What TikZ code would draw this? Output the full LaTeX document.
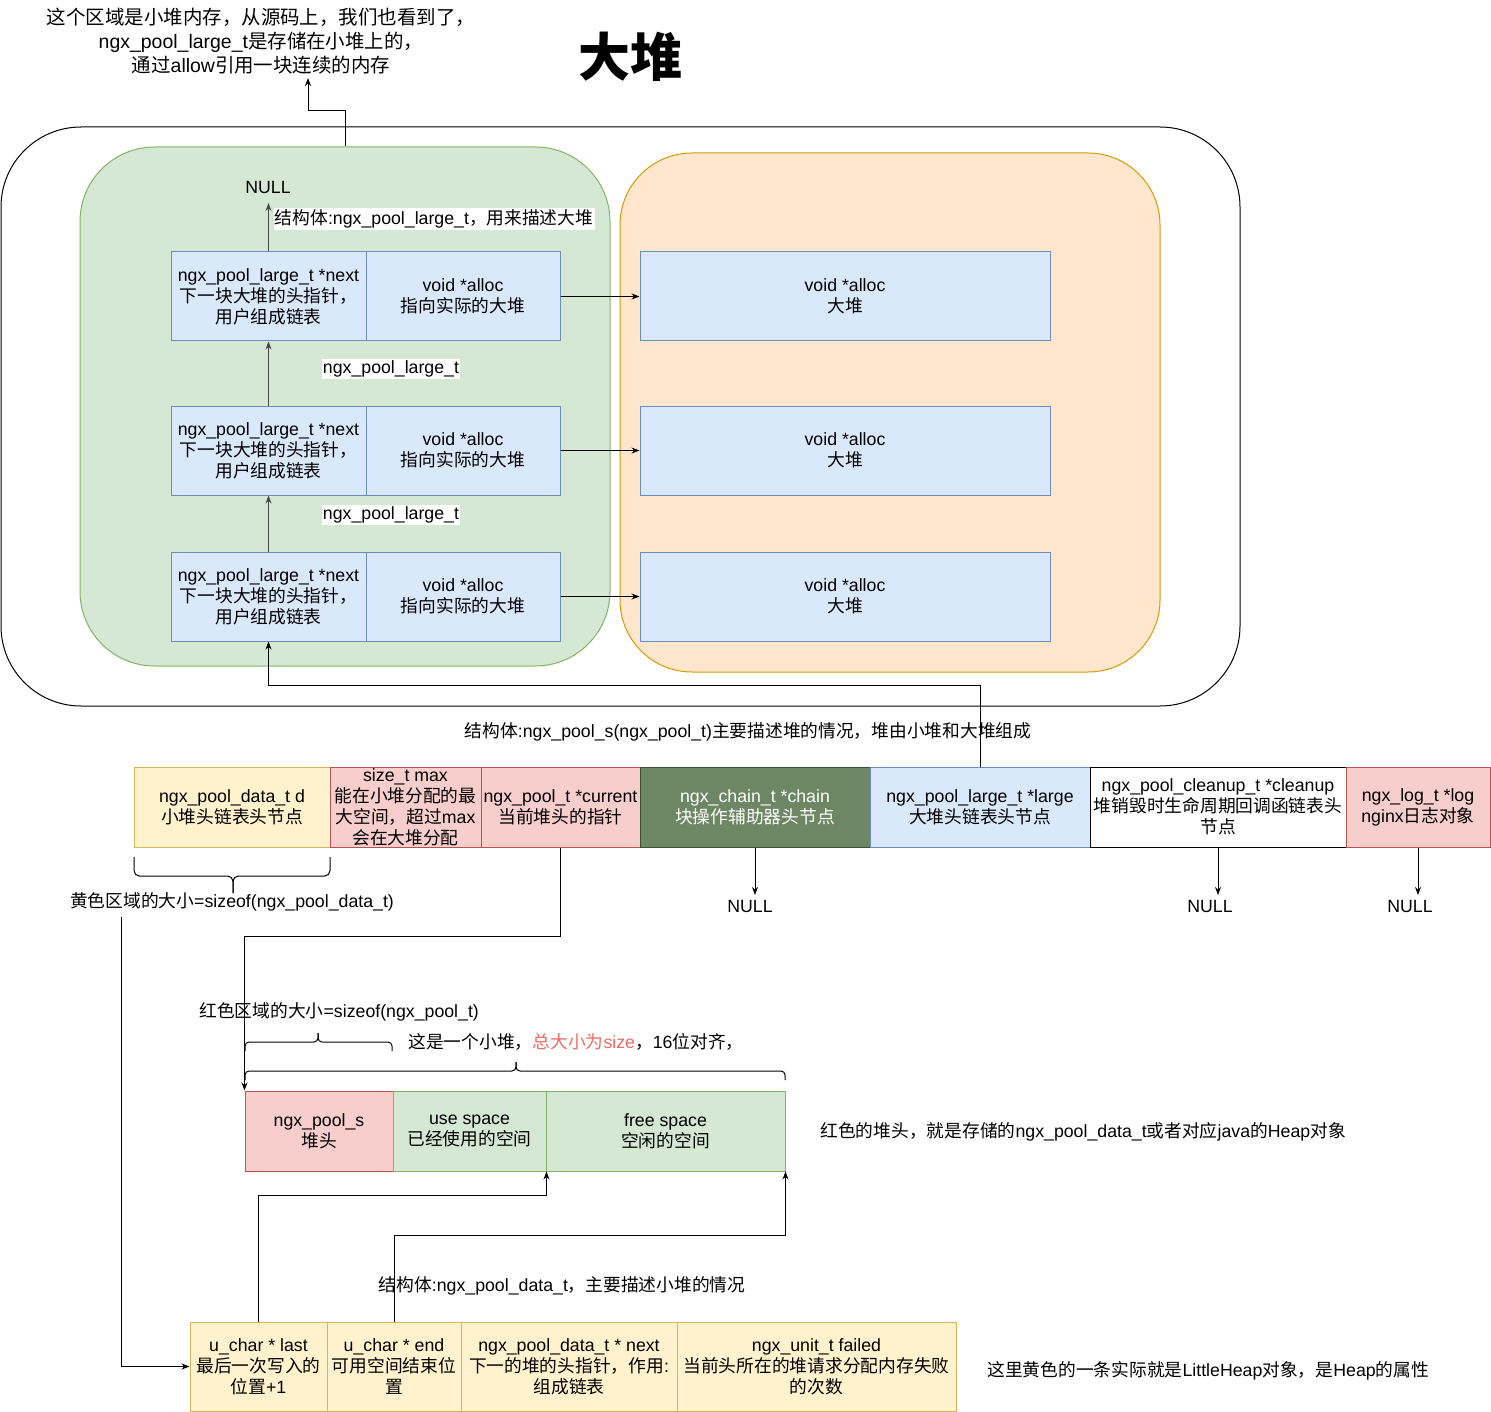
\documentclass[tikz,border=0pt]{standalone}
\usepackage{fontspec}
\setmainfont{Liberation Sans}
\newfontfamily\cjkfont{Noto Sans CJK SC}
\newfontfamily\latinfont{Liberation Sans}
\XeTeXinterchartokenstate=1
\newXeTeXintercharclass\cjkcls
\count255="3000
\loop\XeTeXcharclass\count255=\cjkcls\advance\count255 by 1\ifnum\count255<"A000\repeat
\count255="FF00
\loop\XeTeXcharclass\count255=\cjkcls\advance\count255 by 1\ifnum\count255<"FFF0\repeat
\XeTeXinterchartoks 0 \cjkcls={\cjkfont}
\XeTeXinterchartoks 4095 \cjkcls={\cjkfont}
\XeTeXinterchartoks \cjkcls 0={\latinfont}
\XeTeXinterchartoks 4095 0={\latinfont}
\usetikzlibrary{arrows.meta}
\definecolor{ylwF}{HTML}{FFF2CC}\definecolor{ylwD}{HTML}{D6B656}
\definecolor{redF}{HTML}{F8CECC}\definecolor{redD}{HTML}{B85450}
\definecolor{bluF}{HTML}{DAE8FC}\definecolor{bluD}{HTML}{6C8EBF}
\definecolor{grnF}{HTML}{D5E8D4}\definecolor{grnD}{HTML}{82B366}
\definecolor{orgF}{HTML}{FFE6CC}\definecolor{orgD}{HTML}{D79B00}
\definecolor{dgF}{HTML}{6D8764}\definecolor{dgD}{HTML}{3A5431}
\definecolor{redT}{HTML}{EA6B66}
\newcommand\fs{\fontsize{13.3}{15.75}\selectfont}
\newcommand\cellnode[7]{%
  \pgfmathsetmacro\cw{(#5-#3)*0.75}\pgfmathsetmacro\ch{(#6-#4)*0.75}%
  \node[#2, minimum width=\cw pt, minimum height=\ch pt] (#1) at ({(#3+#5)/2},{(#4+#6)/2}) {#7};}
\tikzset{
  cellbox/.style={draw, inner sep=0pt, align=center, font=\fs},
  blu/.style={cellbox, draw=bluD, fill=bluF},
  ylw/.style={cellbox, draw=ylwD, fill=ylwF},
  red/.style={cellbox, draw=redD, fill=redF},
  grn/.style={cellbox, draw=grnD, fill=grnF},
  dgr/.style={cellbox, draw=dgD, fill=dgF, text=white},
  wht/.style={cellbox, draw=black, fill=white},
  lbl/.style={font=\fs, inner sep=1pt, align=center},
  arr/.style={-{Stealth[length=6pt,width=4.5pt]}},
  garr/.style={arr, draw=black!72},
}
\begin{document}
\begin{tikzpicture}[x=0.75pt,y=-0.75pt,line width=0.75pt]
\useasboundingbox (0,0) rectangle (1491,1412);
% top texts
\node[lbl, font={\fontsize{14.6}{18}\selectfont}] (toptext) at (261,41) {这个区域是小堆内存，从源码上，我们也看到了，\\ngx\_pool\_large\_t是存储在小堆上的，\\通过allow引用一块连续的内存};
\node[lbl, font={\fontsize{39}{45}\selectfont\bfseries}] (title) at (630,57) {大堆};
\coordinate (topend) at (308,78);
% containers
\draw[rounded corners=60pt] (1,127) rectangle (1240,706);
\cellnode{green}{draw=grnD, fill=grnF, rounded corners=56pt, inner sep=0pt}{80}{147}{610}{666}{}
\cellnode{orange}{draw=orgD, fill=orgF, rounded corners=54pt, inner sep=0pt}{620}{153}{1160}{672}{}
% large list
\cellnode{l1}{blu}{171}{252}{366}{341}{ngx\_pool\_large\_t *next\\下一块大堆的头指针，\\用户组成链表}
\cellnode{r1}{blu}{366}{252}{560}{341}{void *alloc\\指向实际的大堆}
\cellnode{b1}{blu}{640}{252}{1050}{341}{void *alloc\\大堆}
\cellnode{l2}{blu}{171}{406}{366}{495}{ngx\_pool\_large\_t *next\\下一块大堆的头指针，\\用户组成链表}
\cellnode{r2}{blu}{366}{406}{560}{495}{void *alloc\\指向实际的大堆}
\cellnode{b2}{blu}{640}{406}{1050}{495}{void *alloc\\大堆}
\cellnode{l3}{blu}{171}{552}{366}{641}{ngx\_pool\_large\_t *next\\下一块大堆的头指针，\\用户组成链表}
\cellnode{r3}{blu}{366}{552}{560}{641}{void *alloc\\指向实际的大堆}
\cellnode{b3}{blu}{640}{552}{1050}{641}{void *alloc\\大堆}
\node[lbl] (nullTop) at (268,187) {NULL};
\draw[garr] (l1.north) -- (l1.north |- 0,203);
\draw[garr] (l2.north) -- (l1.south);
\draw[garr] (l3.north) -- (l2.south);
\node[lbl, fill=white] (lgdesc) at (434,219) {结构体:ngx\_pool\_large\_t，用来描述大堆};
\node[lbl, fill=white] (lg1) at (391,369) {ngx\_pool\_large\_t};
\node[lbl, fill=white] (lg2) at (391,515) {ngx\_pool\_large\_t};
\draw[arr] (r1.east) -- (b1.west);
\draw[arr] (r2.east) -- (b2.west);
\draw[arr] (r3.east) -- (b3.west);
\draw[arr] (green.north) -- ++(0,-36) -| (topend);
% pool_s fields
\node[lbl] (pooldesc) at (748,732) {结构体:ngx\_pool\_s(ngx\_pool\_t)主要描述堆的情况，堆由小堆和大堆组成};
\cellnode{fd}{ylw}{134}{767}{330}{847}{ngx\_pool\_data\_t d\\小堆头链表头节点}
\cellnode{fmax}{red}{330}{767}{481}{847}{size\_t max\\能在小堆分配的最\\大空间，超过max\\会在大堆分配}
\cellnode{fcur}{red}{481}{767}{640}{847}{ngx\_pool\_t *current\\当前堆头的指针}
\cellnode{fchain}{dgr}{640}{767}{870}{847}{ngx\_chain\_t *chain\\块操作辅助器头节点}
\cellnode{flarge}{blu}{870}{767}{1090}{847}{ngx\_pool\_large\_t *large\\大堆头链表头节点}
\cellnode{fclean}{wht}{1090}{767}{1346}{847}{ngx\_pool\_cleanup\_t *cleanup\\堆销毁时生命周期回调函链表头\\节点}
\cellnode{flog}{red}{1346}{767}{1490}{847}{ngx\_log\_t *log\\nginx日志对象}
\draw[arr] (flarge.north) -- ++(0,-81) -| (l3.south);
\node[lbl] (nullA) at (750,906) {NULL};
\node[lbl] (nullB) at (1210,906) {NULL};
\node[lbl] (nullC) at (1410,906) {NULL};
\draw[arr] (fchain.south) -- (fchain.south |- 0,895);
\draw[arr] (fclean.south) -- (fclean.south |- 0,895);
\draw[arr] (flog.south) -- (flog.south |- 0,895);
% yellow brace
\draw[rounded corners=4pt] (134,857) |- (233,876) -- (233,893);
\draw[rounded corners=4pt] (330,857) |- (233,876) -- (233,893);
\node[lbl] (ylabel) at (232,902) {黄色区域的大小=sizeof(ngx\_pool\_data\_t)};
\coordinate (ystart) at (121,917);
% small heap
\node[lbl, anchor=west, inner sep=0pt] (rlabel) at (199,1012) {红色区域的大小=sizeof(ngx\_pool\_t)};
\draw[rounded corners=3pt] (245,1051) |- (318,1042) -- (318,1033);
\draw[rounded corners=3pt] (392,1051) |- (318,1042) -- (318,1033);
\draw[rounded corners=3pt] (245,1080) |- (516,1071) -- (516,1062);
\draw[rounded corners=3pt] (785,1080) |- (516,1071) -- (516,1062);
\node[lbl, anchor=west, inner sep=0pt] (sizelabel) at (408,1042) {这是一个小堆，\textcolor{redT}{总大小为size}，16位对齐，};
\cellnode{ps}{red}{245}{1091}{393}{1171}{ngx\_pool\_s\\堆头}
\cellnode{used}{grn}{393}{1091}{546}{1171}{use space\\已经使用的空间}
\cellnode{free}{grn}{546}{1091}{785}{1171}{free space\\空闲的空间}
\node[lbl, anchor=west, inner sep=0pt] (heapnote) at (820,1132) {红色的堆头，就是存储的ngx\_pool\_data\_t或者对应java的Heap对象};
\draw[arr] (fcur.south) -- ++(0,89) -| (ps.north west);
% data_t
\cellnode{last}{ylw}{190}{1322}{327}{1411}{u\_char * last\\最后一次写入的\\位置+1}
\cellnode{endc}{ylw}{327}{1322}{461}{1411}{u\_char * end\\可用空间结束位\\置}
\cellnode{next}{ylw}{461}{1322}{677}{1411}{ngx\_pool\_data\_t * next\\下一的堆的头指针，作用:\\组成链表}
\cellnode{failed}{ylw}{677}{1322}{956}{1411}{ngx\_unit\_t failed\\当前头所在的堆请求分配内存失败\\的次数}
\node[lbl] (datadesc) at (562,1286) {结构体:ngx\_pool\_data\_t，主要描述小堆的情况};
\node[lbl, anchor=west, inner sep=0pt] (littlenote) at (987,1371) {这里黄色的一条实际就是LittleHeap对象，是Heap的属性};
\draw[arr] (last.north) -- ++(0,-126) -| (used.south east);
\draw[arr] (endc.north) -- ++(0,-86) -| (free.south east);
\draw[arr] (ystart) |- (last.west);
\end{tikzpicture}
\end{document}
